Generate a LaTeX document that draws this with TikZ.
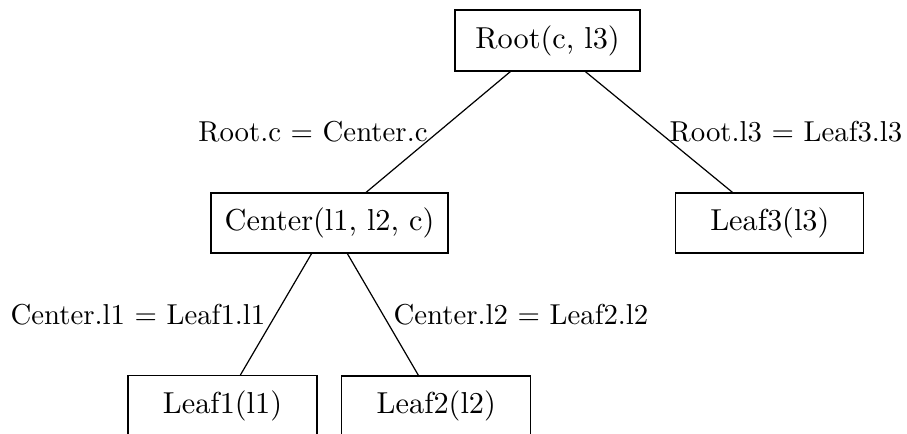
\documentclass[tikz,border=0pt]{standalone}
\begin{document}
\begin{tikzpicture}[x=0.33pt,y=-0.33pt,
  box/.style={draw,inner sep=0pt,minimum height=60*0.33pt},
  lbl/.style={midway,font=\fontsize{9.5}{11}\selectfont,inner sep=3.33pt}]
\useasboundingbox (0,0) rectangle (907,433);
\node[box,minimum width=185*0.33pt,minimum height=61*0.33pt] (root) at (547.5,40.5) {Root(c, l3)};
\node[box,minimum width=237*0.33pt] (center) at (329.5,223) {Center(l1, l2, c)};
\node[box,minimum width=188*0.33pt] (leaf3) at (769.8,223) {Leaf3(l3)};
\node[box,minimum width=189*0.33pt] (leaf1) at (222.5,405.5) {Leaf1(l1)};
\node[box,minimum width=189*0.33pt] (leaf2) at (436.3,406) {Leaf2(l2)};
\draw (root) -- node[lbl,left] {Root.c = Center.c} (center);
\draw (root) -- node[lbl,right] {Root.l3 = Leaf3.l3} (leaf3);
\draw (center) -- node[lbl,left] {Center.l1 = Leaf1.l1} (leaf1);
\draw (center) -- node[lbl,right] {Center.l2 = Leaf2.l2} (leaf2);
\end{tikzpicture}
\end{document}
